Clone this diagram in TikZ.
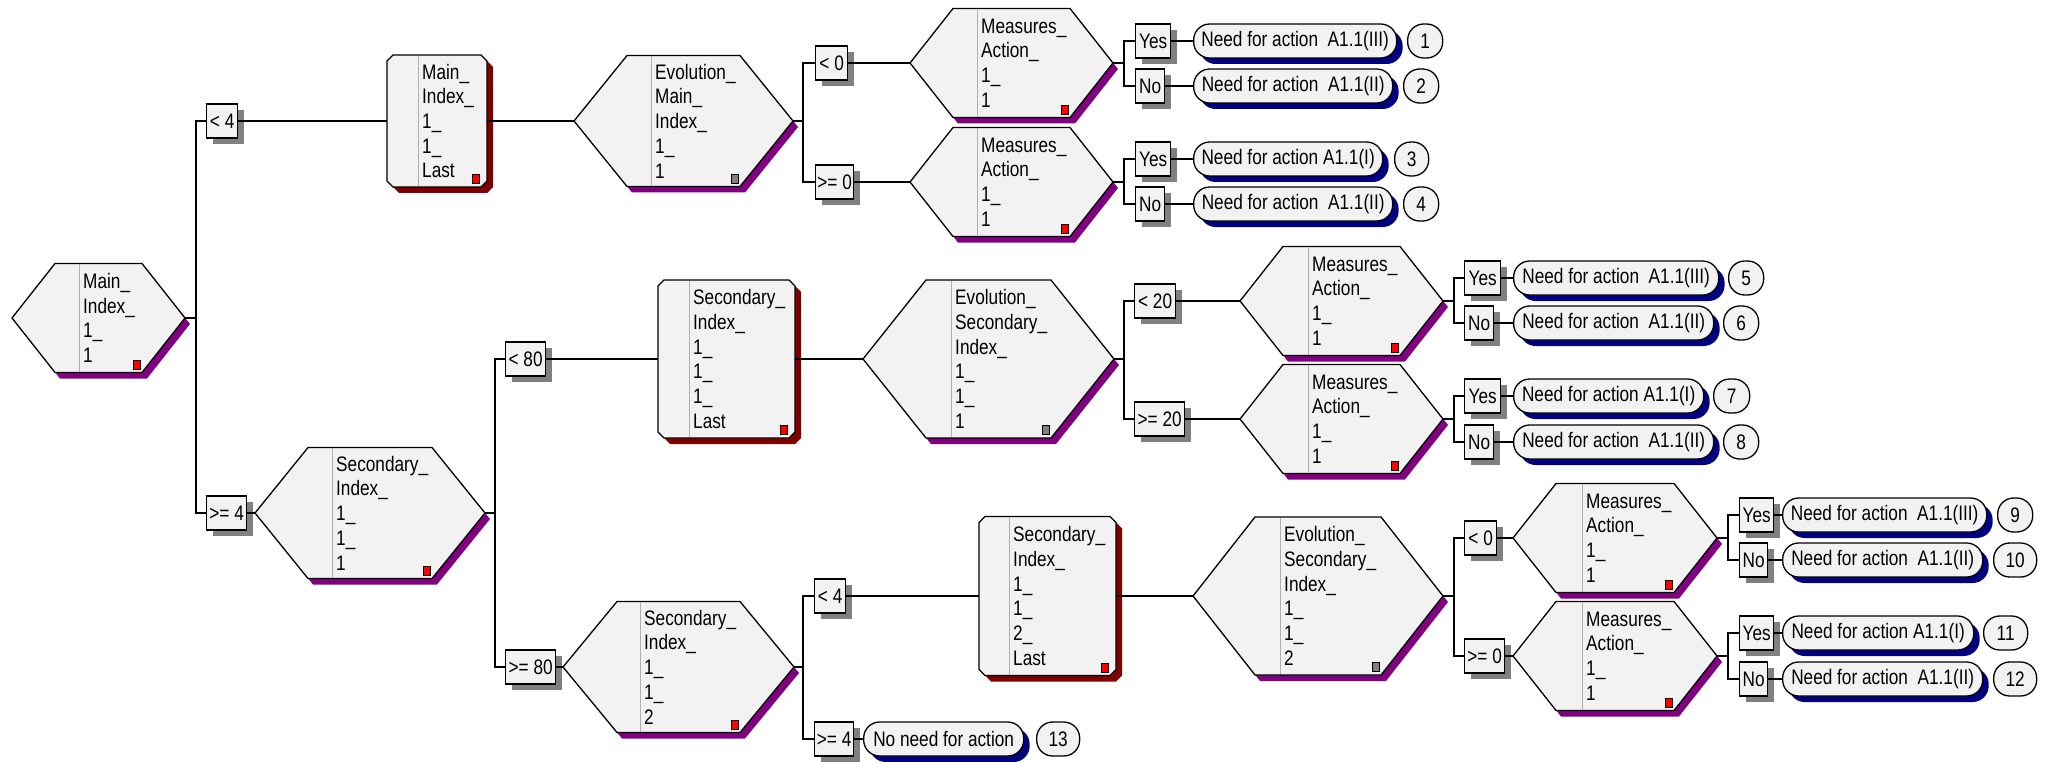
\documentclass[tikz,border=0pt]{standalone}
\usepackage{fontspec}
\setmainfont{Liberation Sans}[FakeStretch=0.82]
\usetikzlibrary{shadows}
\definecolor{boxfill}{HTML}{F2F2F2}
\definecolor{hexsh}{HTML}{800080}
\definecolor{lastsh}{HTML}{800000}
\definecolor{pillsh}{HTML}{000080}
\definecolor{boxsh}{HTML}{808080}
\definecolor{divc}{HTML}{B0B0B0}
\tikzset{
 lbl/.style={font=\fontsize{21}{24.7}\selectfont},
 ln/.style={line width=1.3pt, black},
 cond/.style={draw, line width=1.3pt, fill=boxfill, inner sep=0pt, minimum height=34pt, anchor=west, lbl,
   drop shadow={shadow xshift=6pt, shadow yshift=-6pt, fill=boxsh, opacity=1}},
 pill/.style={draw, line width=1.3pt, fill=boxfill, rounded corners=16pt, inner sep=0pt, minimum height=34pt, anchor=west, lbl,
   drop shadow={shadow xshift=6pt, shadow yshift=-6pt, fill=pillsh, opacity=1}},
 numc/.style={draw, line width=1.3pt, fill=boxfill, rounded corners=16pt, inner sep=0pt, minimum height=34pt, anchor=west, lbl},
 sq/.style={draw, line width=0.8pt, inner sep=0pt, minimum width=7pt, minimum height=9pt},
 anchorbox/.style={inner sep=0pt, outer sep=0pt},
 txt/.style={anchor=west, inner sep=0pt, align=left, lbl},
}
% name, left, right, cy, half height, slope, divider x, text, square colour
\newcommand\hexa[9]{%
 \fill[hexsh] ({#2+5},{#4+6}) -- ({#2+#6+5},{#4-#5+6}) -- ({#3-#6+5},{#4-#5+6}) -- ({#3+5},{#4+6}) -- ({#3-#6+5},{#4+#5+6}) -- ({#2+#6+5},{#4+#5+6}) -- cycle;
 \filldraw[ln, fill=boxfill] (#2,#4) -- ({#2+#6},{#4-#5}) -- ({#3-#6},{#4-#5}) -- (#3,#4) -- ({#3-#6},{#4+#5}) -- ({#2+#6},{#4+#5}) -- cycle;
 \draw[divc, line width=1pt] (#7,{#4-#5+0.7}) -- (#7,{#4+#5-0.7});
 \node[anchorbox, minimum width={#3pt-#2pt}, minimum height={2*#5pt}] (#1) at ({(#2+#3)/2},#4) {};
 \node[txt] (#1-t) at ({#7+4},#4) {#8};
 \node[sq, fill=#9] (#1-s) at ({#3-#6-5},{#4+#5-8}) {};
}
% name, left, right, cy, half height, divider x, text
\newcommand\lastnode[7]{%
 \fill[lastsh] ({#2+6+6},{#4-#5+6}) -- ({#3-6+6},{#4-#5+6}) -- ({#3+6},{#4-#5+6+6}) -- ({#3+6},{#4+#5-6+6}) -- ({#3-6+6},{#4+#5+6}) -- ({#2+6+6},{#4+#5+6}) -- ({#2+6},{#4+#5-6+6}) -- ({#2+6},{#4-#5+6+6}) -- cycle;
 \filldraw[ln, fill=boxfill] ({#2+6},{#4-#5}) -- ({#3-6},{#4-#5}) -- (#3,{#4-#5+6}) -- (#3,{#4+#5-6}) -- ({#3-6},{#4+#5}) -- ({#2+6},{#4+#5}) -- (#2,{#4+#5-6}) -- (#2,{#4-#5+6}) -- cycle;
 \draw[divc, line width=1pt] (#6,{#4-#5+0.7}) -- (#6,{#4+#5-0.7});
 \node[anchorbox, minimum width={#3pt-#2pt}, minimum height={2*#5pt}] (#1) at ({(#2+#3)/2},#4) {};
 \node[txt] (#1-t) at ({#6+4},#4) {#7};
 \node[sq, fill=red] (#1-s) at ({#3-11},{#4+#5-8}) {};
}
\newcommand\MA{Measures\_\\Action\_\\1\_\\1}
\newcommand\NIII{Need for action\ \ A1.1(III)}
\newcommand\NII{Need for action\ \ A1.1(II)}
\newcommand\NI{Need for action A1.1(I)}
\begin{document}
\begin{tikzpicture}[x=1pt,y=-1pt]
\fill[white] (0,0) rectangle (2049,762);
\useasboundingbox (0,0) rectangle (2049,762);

% hexagons and last boxes
\hexa{R}{12}{185}{318}{54.5}{43}{79}{Main\_\\Index\_\\1\_\\1}{red}
\lastnode{MIL}{387}{487}{121}{66}{418}{Main\_\\Index\_\\1\_\\1\_\\Last}
\hexa{EM}{574}{793}{121}{65.5}{53}{651}{Evolution\_\\Main\_\\Index\_\\1\_\\1}{boxsh}
\hexa{M1}{910}{1113}{63}{54.5}{43}{977}{\MA}{red}
\hexa{M2}{910}{1113}{182}{54.5}{43}{977}{\MA}{red}
\hexa{S11}{255}{485}{513}{65.5}{53}{332}{Secondary\_\\Index\_\\1\_\\1\_\\1}{red}
\lastnode{SAL}{658}{795}{359}{79}{689}{Secondary\_\\Index\_\\1\_\\1\_\\1\_\\Last}
\hexa{ES1}{863}{1114}{359}{79}{63}{951}{Evolution\_\\Secondary\_\\Index\_\\1\_\\1\_\\1}{boxsh}
\hexa{M3}{1240}{1443}{301}{54.5}{43}{1308}{\MA}{red}
\hexa{M4}{1240}{1443}{419}{54.5}{43}{1308}{\MA}{red}
\hexa{S12}{563}{794}{667}{65.5}{54}{640}{Secondary\_\\Index\_\\1\_\\1\_\\2}{red}
\lastnode{SBL}{979}{1116}{596}{79.5}{1009}{Secondary\_\\Index\_\\1\_\\1\_\\2\_\\Last}
\hexa{ES2}{1193}{1443}{596}{79}{62}{1280}{Evolution\_\\Secondary\_\\Index\_\\1\_\\1\_\\2}{boxsh}
\hexa{M5}{1513}{1717}{538}{54.5}{43}{1582}{\MA}{red}
\hexa{M6}{1513}{1717}{656}{54.5}{43}{1582}{\MA}{red}

% condition boxes
\node[cond, minimum width=31pt] (c1) at (206,121) {< 4};
\node[cond, minimum width=40pt] (c2) at (206,513) {>= 4};
\node[cond, minimum width=32pt] (c3) at (815,63) {< 0};
\node[cond, minimum width=38pt] (c4) at (815,182) {>= 0};
\node[cond, minimum width=40pt] (c5) at (505,359) {< 80};
\node[cond, minimum width=50pt] (c6) at (505,667) {>= 80};
\node[cond, minimum width=41pt] (c7) at (1134,301) {< 20};
\node[cond, minimum width=50pt] (c8) at (1134,419) {>= 20};
\node[cond, minimum width=31pt] (c9) at (814,596) {< 4};
\node[cond, minimum width=39pt] (c10) at (814,739) {>= 4};
\node[cond, minimum width=32pt] (c11) at (1464,538) {< 0};
\node[cond, minimum width=40pt] (c12) at (1464,656) {>= 0};

% yes / no boxes
\node[cond, minimum width=35pt] (y1) at (1135,41) {Yes};
\node[cond, minimum width=29pt] (n1) at (1135,86) {No};
\node[cond, minimum width=35pt] (y2) at (1135,159) {Yes};
\node[cond, minimum width=29pt] (n2) at (1135,204) {No};
\node[cond, minimum width=36pt] (y3) at (1464,278) {Yes};
\node[cond, minimum width=29pt] (n3) at (1464,323) {No};
\node[cond, minimum width=36pt] (y4) at (1464,396) {Yes};
\node[cond, minimum width=29pt] (n4) at (1464,442) {No};
\node[cond, minimum width=34pt] (y5) at (1739,515) {Yes};
\node[cond, minimum width=28pt] (n5) at (1739,560) {No};
\node[cond, minimum width=34pt] (y6) at (1739,633) {Yes};
\node[cond, minimum width=28pt] (n6) at (1739,679) {No};

% result pills
\node[pill, minimum width=203pt] (p1) at (1193,41) {\NIII};
\node[pill, minimum width=199pt] (p2) at (1193,86) {\NII};
\node[pill, minimum width=189pt] (p3) at (1193,159) {\NI};
\node[pill, minimum width=199pt] (p4) at (1193,204) {\NII};
\node[pill, minimum width=205pt] (p5) at (1513,278) {\NIII};
\node[pill, minimum width=200pt] (p6) at (1513,323) {\NII};
\node[pill, minimum width=190pt] (p7) at (1513,396) {\NI};
\node[pill, minimum width=200pt] (p8) at (1513,442) {\NII};
\node[pill, minimum width=204pt] (p9) at (1782,515) {\NIII};
\node[pill, minimum width=200pt] (p10) at (1782,560) {\NII};
\node[pill, minimum width=191pt] (p11) at (1782,633) {\NI};
\node[pill, minimum width=200pt] (p12) at (1782,679) {\NII};
\node[pill, minimum width=160pt] (p13) at (863,739) {No need for action};

% numbers
\node[numc, minimum width=35pt] (k1) at (1407,41) {1};
\node[numc, minimum width=35pt] (k2) at (1403,86) {2};
\node[numc, minimum width=34pt] (k3) at (1394,159) {3};
\node[numc, minimum width=35pt] (k4) at (1403,204) {4};
\node[numc, minimum width=35pt] (k5) at (1728,278) {5};
\node[numc, minimum width=35pt] (k6) at (1723,323) {6};
\node[numc, minimum width=36pt] (k7) at (1713,396) {7};
\node[numc, minimum width=35pt] (k8) at (1723,442) {8};
\node[numc, minimum width=35pt] (k9) at (1997,515) {9};
\node[numc, minimum width=43pt] (k10) at (1993,560) {10};
\node[numc, minimum width=44pt] (k11) at (1983,633) {11};
\node[numc, minimum width=43pt] (k12) at (1993,679) {12};
\node[numc, minimum width=43pt] (k13) at (1036,739) {13};

% branch points
\coordinate (b0) at (196,318);
\coordinate (b1) at (803,121);
\coordinate (b2) at (1124,63);
\coordinate (b3) at (1124,182);
\coordinate (b4) at (495,513);
\coordinate (b5) at (1124,359);
\coordinate (b6) at (1454,301);
\coordinate (b7) at (1454,419);
\coordinate (b8) at (803,667);
\coordinate (b9) at (1454,596);
\coordinate (b10) at (1728,538);
\coordinate (b11) at (1728,656);

% connectors
\draw[ln] (R.east) -- (b0) |- (c1.west);
\draw[ln] (b0) |- (c2.west);
\draw[ln] (c1.east) -- (MIL.west);
\draw[ln] (MIL.east) -- (EM.west);
\draw[ln] (EM.east) -- (b1) |- (c3.west);
\draw[ln] (b1) |- (c4.west);
\draw[ln] (c3.east) -- (M1.west);
\draw[ln] (c4.east) -- (M2.west);
\draw[ln] (M1.east) -- (b2) |- (y1.west);
\draw[ln] (b2) |- (n1.west);
\draw[ln] (y1.east) -- (p1.west);
\draw[ln] (n1.east) -- (p2.west);
\draw[ln] (M2.east) -- (b3) |- (y2.west);
\draw[ln] (b3) |- (n2.west);
\draw[ln] (y2.east) -- (p3.west);
\draw[ln] (n2.east) -- (p4.west);

\draw[ln] (c2.east) -- (S11.west);
\draw[ln] (S11.east) -- (b4) |- (c5.west);
\draw[ln] (b4) |- (c6.west);
\draw[ln] (c5.east) -- (SAL.west);
\draw[ln] (SAL.east) -- (ES1.west);
\draw[ln] (ES1.east) -- (b5) |- (c7.west);
\draw[ln] (b5) |- (c8.west);
\draw[ln] (c7.east) -- (M3.west);
\draw[ln] (c8.east) -- (M4.west);
\draw[ln] (M3.east) -- (b6) |- (y3.west);
\draw[ln] (b6) |- (n3.west);
\draw[ln] (y3.east) -- (p5.west);
\draw[ln] (n3.east) -- (p6.west);
\draw[ln] (M4.east) -- (b7) |- (y4.west);
\draw[ln] (b7) |- (n4.west);
\draw[ln] (y4.east) -- (p7.west);
\draw[ln] (n4.east) -- (p8.west);

\draw[ln] (c6.east) -- (S12.west);
\draw[ln] (S12.east) -- (b8) |- (c9.west);
\draw[ln] (b8) |- (c10.west);
\draw[ln] (c10.east) -- (p13.west);
\draw[ln] (c9.east) -- (SBL.west);
\draw[ln] (SBL.east) -- (ES2.west);
\draw[ln] (ES2.east) -- (b9) |- (c11.west);
\draw[ln] (b9) |- (c12.west);
\draw[ln] (c11.east) -- (M5.west);
\draw[ln] (c12.east) -- (M6.west);
\draw[ln] (M5.east) -- (b10) |- (y5.west);
\draw[ln] (b10) |- (n5.west);
\draw[ln] (y5.east) -- (p9.west);
\draw[ln] (n5.east) -- (p10.west);
\draw[ln] (M6.east) -- (b11) |- (y6.west);
\draw[ln] (b11) |- (n6.west);
\draw[ln] (y6.east) -- (p11.west);
\draw[ln] (n6.east) -- (p12.west);
\end{tikzpicture}
\end{document}
